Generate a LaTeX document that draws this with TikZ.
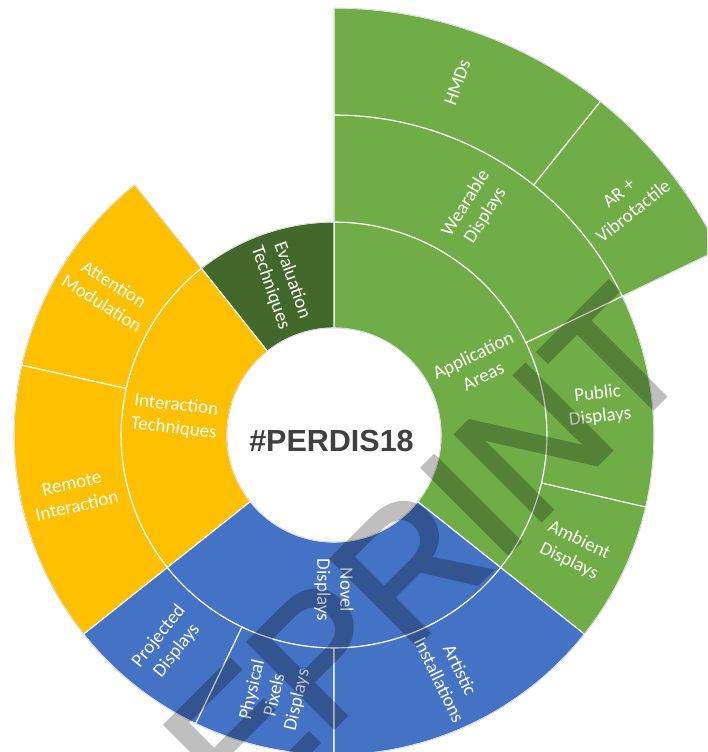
\documentclass[tikz,border=0pt]{standalone}
\usepackage{fontspec}
\newfontfamily\lblfont{Carlito}
\newfontfamily\hubfont{Liberation Sans}
\newfontfamily\markfont[FakeBold=2]{Liberation Sans}
\definecolor{sbgreen}{HTML}{70AD47}
\definecolor{sbdark}{HTML}{43682B}
\definecolor{sbyellow}{HTML}{FFC000}
\definecolor{sbblue}{HTML}{4472C4}
\definecolor{hubgray}{HTML}{404040}
\definecolor{rimgray}{HTML}{D4D4D4}

% one ring segment: start angle, end angle, inner radius, outer radius, colour
\newcommand\sbseg[5]{%
  \path[segment, fill=#5] (#1:#3pt) -- (#1:#4pt)
    arc[start angle=#1, end angle=#2, radius=#4pt]
    -- (#2:#3pt) arc[start angle=#2, end angle=#1, radius=#3pt] -- cycle;}

\tikzset{
  segment/.style={draw=white, line width=1.1pt, line join=round},
  lbl/.style={text=white, align=center, inner sep=0pt,
    font=\lblfont\fontsize{19}{23}\selectfont},
  hub/.style={text=hubgray, inner sep=0pt,
    font=\hubfont\bfseries\fontsize{30.5}{32}\selectfont},
  wm/.style={text=black, inner sep=0pt,
    font=\markfont\fontsize{176}{176}\selectfont},
}

\begin{document}
\begin{tikzpicture}
\useasboundingbox (-334pt,-317pt) rectangle (373pt,435pt);
\clip (-334pt,-317pt) rectangle (373pt,435pt);
\fill[white] (-334pt,-317pt) rectangle (373pt,435pt);

% inner ring
\sbseg{-38.5}{90}{107}{213}{sbgreen}
\sbseg{90}{128.5}{107}{213}{sbdark}
\sbseg{128.5}{218.5}{107}{213}{sbyellow}
\sbseg{218.5}{321.5}{107}{213}{sbblue}
% middle ring
\sbseg{-38.5}{-13}{213}{320}{sbgreen}
\sbseg{-13}{25.7}{213}{320}{sbgreen}
\sbseg{25.7}{90}{213}{320}{sbgreen}
\sbseg{128.5}{167.4}{213}{320}{sbyellow}
\sbseg{167.4}{218.5}{213}{320}{sbyellow}
\sbseg{218.5}{244.4}{213}{320}{sbblue}
\sbseg{244.4}{270}{213}{320}{sbblue}
\sbseg{270}{321.5}{213}{320}{sbblue}
% outer ring
\sbseg{25.7}{51.4}{320}{427}{sbgreen}
\sbseg{51.4}{90}{320}{427}{sbgreen}

% faint rim where the chart meets the background
\draw[rimgray, line width=0.7pt, line join=round]
  (128.5:213pt) -- (128.5:320pt)
  arc[start angle=128.5, end angle=385.7, radius=320pt]
  -- (25.7:427pt) arc[start angle=25.7, end angle=90, radius=427pt]
  -- (90:213pt) arc[start angle=90, end angle=128.5, radius=213pt] -- cycle;
\draw[rimgray, line width=0.7pt] (0,0) circle[radius=107pt];

% centre
\node[hub, anchor=base] (hub) at (-2.5pt,-17pt) {\#PERDIS18};

% inner ring labels
\node[lbl, rotate=25.75] (appl) at (25.75:160pt) {Application\\Areas};
\node[lbl, rotate=-70.75] (eval) at (109.25:160pt) {Evaluation\\Techniques};
\node[lbl, rotate=-6.5] (inter) at (173.5:160pt) {Interaction\\Techniques};
\node[lbl, rotate=-90, xshift=-5pt] (novel) at (270:160pt) {Novel\\Displays};

% middle ring labels
\node[lbl, rotate=-25.75] (ambient) at (-25.75:266.5pt) {Ambient\\Displays};
\node[lbl, rotate=6.35] (public) at (6.35:266.5pt) {Public\\Displays};
\node[lbl, rotate=57.85] (wear) at (57.85:266.5pt) {Wearable\\Displays};
\node[lbl, rotate=-32.05] (attn) at (147.95:266.5pt) {Attention\\Modulation};
\node[lbl, rotate=12.95] (remote) at (192.95:266.5pt) {Remote\\Interaction};
\node[lbl, rotate=51.45] (proj) at (231.45:266.5pt) {Projected\\Displays};
\node[lbl, rotate=77.2] (phys) at (257.2:266.5pt) {Physical\\Pixels\\Displays};
\node[lbl, rotate=-64.25] (art) at (-64.25:266.5pt) {Artistic\\Installations};

% outer ring labels
\node[lbl, rotate=38.55] (arvib) at (38.55:373.5pt) {AR +\\Vibrotactile};
\node[lbl, rotate=70.7] (hmd) at (70.7:373.5pt) {HMDs};

% watermark, composited as one translucent layer
\begin{scope}[transparency group, opacity=0.25]
  \node[wm, rotate=45, anchor=base] (wmark) at (48.7pt,-244pt) {PREPRINT};
\end{scope}
\end{tikzpicture}
\end{document}
